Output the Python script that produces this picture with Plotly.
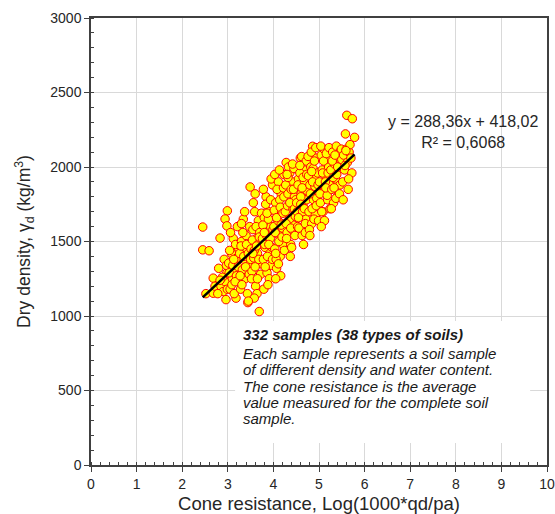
import plotly.graph_objects as go

# Cone resistance, Log(1000*qd/pa)
cone_x = [
    2.45, 2.45, 2.59, 2.52, 2.68, 2.68, 2.72,
    2.80, 2.85, 2.90, 2.94, 2.96, 2.98, 2.99, 2.94, 2.88, 2.78, 2.92, 2.97, 2.83, 2.99, 2.83, 2.98,
    3.02, 3.05, 3.08, 3.10, 3.12, 3.15, 3.18, 3.20, 3.22, 3.24, 3.03, 3.06, 3.09, 3.11, 3.14, 3.17, 3.19, 3.21, 3.23, 3.04, 3.13, 3.16,
    3.26, 3.28, 3.30, 3.32, 3.34, 3.36, 3.38, 3.40, 3.42, 3.44, 3.46, 3.48, 3.27, 3.29, 3.31, 3.33, 3.35, 3.37, 3.39, 3.41, 3.43, 3.45, 3.47, 3.49, 3.30, 3.50,
    3.51, 3.53, 3.55, 3.57, 3.59, 3.61, 3.63, 3.65, 3.67, 3.69, 3.71, 3.73, 3.52, 3.54, 3.56, 3.58, 3.60, 3.62, 3.64, 3.66, 3.68, 3.70, 3.72, 3.74, 3.55, 3.60, 3.65, 3.69, 3.58, 3.63,
    3.76, 3.78, 3.80, 3.82, 3.84, 3.86, 3.88, 3.90, 3.92, 3.94, 3.96, 3.98, 3.77, 3.79, 3.81, 3.83, 3.85, 3.87, 3.89, 3.91, 3.93, 3.95, 3.97, 3.99, 3.78, 3.82, 3.86, 3.90, 3.94, 3.98, 3.80, 3.88,
    4.01, 4.03, 4.05, 4.07, 4.09, 4.11, 4.13, 4.15, 4.17, 4.19, 4.21, 4.23, 4.02, 4.04, 4.06, 4.08, 4.10, 4.12, 4.14, 4.16, 4.18, 4.20, 4.22, 4.24, 4.03, 4.07, 4.11, 4.15, 4.19, 4.23, 4.05, 4.13, 4.17, 4.21,
    4.26, 4.28, 4.30, 4.32, 4.34, 4.36, 4.38, 4.40, 4.42, 4.44, 4.46, 4.48, 4.27, 4.29, 4.31, 4.33, 4.35, 4.37, 4.39, 4.41, 4.43, 4.45, 4.47, 4.49, 4.28, 4.32, 4.36, 4.40, 4.44, 4.48, 4.30, 4.38, 4.42, 4.46,
    4.51, 4.53, 4.55, 4.57, 4.59, 4.61, 4.63, 4.65, 4.67, 4.69, 4.71, 4.73, 4.52, 4.54, 4.56, 4.58, 4.60, 4.62, 4.64, 4.66, 4.68, 4.70, 4.72, 4.74, 4.55, 4.60, 4.65, 4.70, 4.58, 4.63, 4.68, 4.73,
    4.76, 4.78, 4.80, 4.82, 4.84, 4.86, 4.88, 4.90, 4.92, 4.94, 4.96, 4.98, 4.77, 4.79, 4.81, 4.83, 4.85, 4.87, 4.89, 4.91, 4.93, 4.95, 4.97, 4.99, 4.80, 4.86, 4.90, 4.94, 4.84, 4.98,
    5.01, 5.03, 5.05, 5.07, 5.09, 5.11, 5.13, 5.15, 5.17, 5.19, 5.21, 5.23, 5.02, 5.04, 5.06, 5.08, 5.10, 5.12, 5.14, 5.16, 5.18, 5.20, 5.22, 5.24, 5.05, 5.15,
    5.26, 5.28, 5.30, 5.32, 5.34, 5.36, 5.38, 5.40, 5.42, 5.44, 5.46, 5.48, 5.27, 5.29, 5.31, 5.33, 5.35, 5.37, 5.39, 5.41, 5.45, 5.49,
    5.50, 5.52, 5.54, 5.56, 5.58, 5.60, 5.62, 5.64, 5.66, 5.68, 5.70, 5.72, 5.53, 5.57, 5.61, 5.65, 5.59, 5.78, 5.73,
    3.45, 4.05,
]

# Dry density (kg/m3)
dry_density = [
    1597, 1444, 1438, 1150, 1254, 1153, 1200,
    1320, 1200, 1164, 1231, 1110, 1290, 1706, 1651, 1260, 1150, 1380, 1340, 1240, 1180, 1523, 1605,
    1355, 1180, 1420, 1250, 1520, 1300, 1120, 1390, 1460, 1240, 1290, 1560, 1210, 1340, 1150, 1480, 1270, 1600, 1330, 1440, 1380, 1230,
    1420, 1180, 1500, 1310, 1650, 1380, 1250, 1540, 1450, 1090, 1340, 1600, 1270, 1470, 1210, 1560, 1400, 1700, 1330, 1480, 1150, 1420, 1280, 1866, 1620, 1380,
    1450, 1300, 1580, 1390, 1700, 1200, 1520, 1420, 1640, 1030, 1480, 1350, 1250, 1510, 1760, 1440, 1330, 1600, 1150, 1480, 1380, 1560, 1280, 1690, 1420, 1820, 1250, 1530, 1120, 1470,
    1520, 1380, 1660, 1460, 1800, 1290, 1560, 1700, 1420, 1600, 1340, 1880, 1610, 1180, 1480, 1750, 1540, 1400, 1650, 1250, 1520, 1920, 1460, 1580, 1850, 1330, 1690, 1480, 1780, 1380, 1560, 1210,
    1600, 1450, 1760, 1320, 1680, 1900, 1540, 1400, 1820, 1620, 1480, 1950, 1710, 1560, 1380, 1850, 1640, 1500, 1780, 1270, 1700, 1590, 1860, 1440, 1950, 1660, 1350, 1730, 1530, 1800, 1420, 1980, 1610, 1690,
    1700, 2030, 1560, 1820, 1640, 1960, 1480, 1750, 1900, 1610, 1800, 1690, 1880, 1520, 1740, 2000, 1650, 1400, 1850, 1580, 1720, 1990, 1540, 1780, 1620, 1930, 1760, 1460, 1850, 1670, 1950, 1590, 2020, 1720,
    1760, 1600, 1920, 1680, 2060, 1820, 1540, 1740, 1980, 1860, 1650, 1780, 1700, 1880, 1590, 1960, 1800, 2070, 1700, 1480, 1900, 1620, 2040, 1840, 1660, 1750, 1930, 1560, 2010, 1860, 1720, 1950,
    2071, 1700, 1880, 2000, 1620, 2139, 1780, 1920, 1680, 2060, 1840, 1760, 1940, 1580, 1820, 2100, 1720, 1990, 1650, 1870, 2130, 1790, 1960, 1640, 1540, 1900, 2040, 1740, 1970, 1880,
    1900, 1760, 2080, 1980, 1700, 2120, 1850, 1940, 2050, 1780, 2000, 1880, 1820, 2140, 1700, 1960, 2040, 1640, 1900, 2090, 1810, 1960, 2130, 1720, 1600, 1860,
    1980, 1850, 2100, 1760, 2020, 1920, 2140, 1800, 2060, 1990, 1880, 2110, 1720, 2040, 1930, 1860, 2080, 1790, 1950, 2000, 1820, 2120,
    2050, 1900, 2080, 1980, 2222, 2120, 2030, 1850, 2100, 2150, 2060, 1960, 1780, 2010, 2347, 1920, 2110, 2199, 2324,
    1100, 1250,
]

# Published linear trendline
slope = 288.36
intercept = 418.02
trend_x = [min(cone_x), max(cone_x)]
trend_y = [slope * v + intercept for v in trend_x]

eq_text = "y = 288,36x + 418,02<br>R² = 0,6068"
note_lines = [
    "<b><i>332 samples (38 types of soils)</i></b>",
    "<i>Each sample represents a soil sample</i>",
    "<i>of different density and water content.</i>",
    "<i>The cone resistance is the average</i>",
    "<i>value measured for the complete soil</i>",
    "<i>sample.</i>",
]
note_line_y = [873, 748, 639, 529, 420, 311]

FONT = "Liberation Sans, Arial, sans-serif"

fig = go.Figure()
fig.add_trace(go.Scatter(
    x=cone_x, y=dry_density, mode="markers",
    marker=dict(size=8.5, color="#FFFF00", line=dict(color="#FF0000", width=1)),
    showlegend=False,
))
fig.add_trace(go.Scatter(
    x=trend_x, y=trend_y, mode="lines",
    line=dict(color="#000000", width=2.5),
    showlegend=False,
))

# white box behind the note text
fig.add_shape(type="rect", xref="x", yref="y", x0=3.16, x1=9.63, y0=147, y1=967,
              fillcolor="white", line=dict(width=0), layer="between")

fig.add_annotation(x=8.16, y=2237, xref="x", yref="y", text=eq_text, showarrow=False,
                   align="center", font=dict(family=FONT, size=16, color="#262626"))
for line, ly in zip(note_lines, note_line_y):
    fig.add_annotation(x=3.3, y=ly, xref="x", yref="y", text=line,
                       showarrow=False, align="left", xanchor="left", yanchor="middle",
                       font=dict(family=FONT, size=15, color="#1a1a1a"))

axis_common = dict(
    showline=True, linecolor="#404040", linewidth=1.5, mirror=True,
    showgrid=True, gridcolor="#d9d9d9", gridwidth=1,
    ticks="outside", ticklen=5, tickcolor="#404040", tickwidth=1,
    zeroline=False, automargin=False,
    tickfont=dict(family=FONT, size=14, color="#262626"),
)

fig.update_layout(
    width=555, height=514,
    margin=dict(l=91, r=8, t=18, b=49),
    paper_bgcolor="white", plot_bgcolor="white",
    font=dict(family=FONT, color="#262626"),
    xaxis=dict(range=[0, 10], dtick=1, **axis_common,
               minor=dict(dtick=0.2, ticks="inside", ticklen=3, tickcolor="#404040", showgrid=False),
               title=dict(text="Cone resistance, Log(1000*qd/pa)", font=dict(family=FONT, size=18.5))),
    yaxis=dict(range=[0, 3000], dtick=500, **axis_common,
               minor=dict(dtick=100, ticks="inside", ticklen=3, tickcolor="#404040", showgrid=False),
               title=dict(text="Dry density, γ<sub>d</sub> (kg/m<sup>3</sup>)", font=dict(family=FONT, size=17.5))),
)

fig.write_html("out.html", config={"displayModeBar": False},
               post_script="document.body.style.margin='0';document.body.style.overflow='hidden';")
